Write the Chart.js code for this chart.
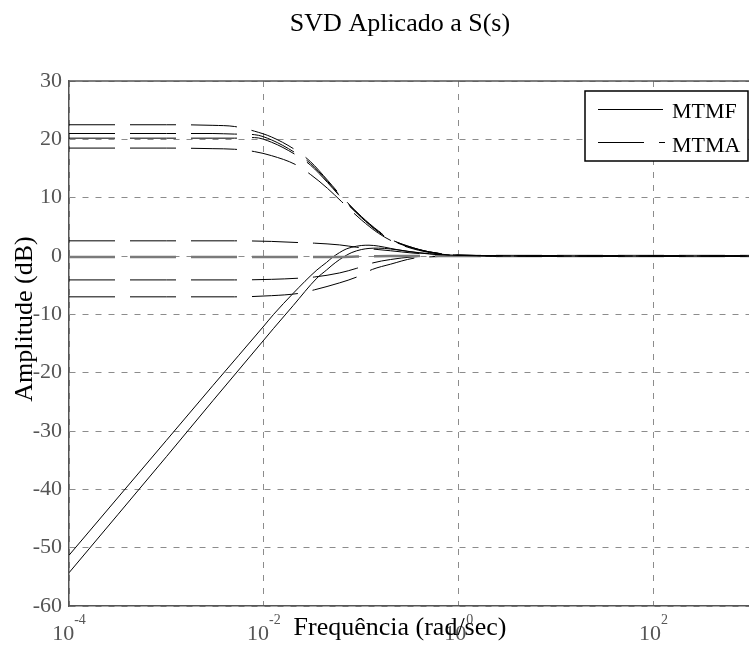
<!DOCTYPE html>
<html>
<head>
<meta charset="utf-8">
<script src="https://cdn.jsdelivr.net/npm/chart.js@4.4.0/dist/chart.umd.min.js"></script>
<style>
  html, body { margin: 0; padding: 0; background: #fff; overflow: hidden; }
  #wrap { width: 752px; height: 651px; }
</style>
</head>
<body>
<div id="wrap"><canvas id="svdChart" width="752" height="651"></canvas></div>
<script>
// Eixos
const xTickExps = [-4, -2, 0, 2];
const yTicks = [-60, -50, -40, -30, -20, -10, 0, 10, 20, 30];

// MTMA - grupo alto (valores singulares grandes)
const fHigh = [1e-4, 1e-3, 3e-3, 5e-3, 8e-3, 0.012, 0.021, 0.03, 0.045, 0.063, 0.1, 0.15, 0.21, 0.3, 0.5, 1, 10, 1000];
const mtmaA = [22.5, 22.5, 22.4, 22.2, 21.4, 20.4, 18.2, 16.2, 13.0, 10.2, 6.8, 4.3, 2.7, 1.7, 0.7, 0.15, 0, 0];
const mtmaB = [21.0, 21.0, 21.0, 20.9, 20.8, 19.9, 17.7, 15.9, 12.8, 10.0, 6.7, 4.2, 2.7, 1.7, 0.7, 0.15, 0, 0];
const mtmaC = [20.2, 20.2, 20.2, 20.2, 20.3, 19.5, 17.4, 15.6, 12.6, 9.9, 6.6, 4.1, 2.6, 1.6, 0.7, 0.15, 0, 0];
const mtmaD = [18.5, 18.5, 18.4, 18.3, 17.9, 17.2, 15.7, 14.0, 11.6, 9.3, 6.2, 3.9, 2.5, 1.5, 0.6, 0.1, 0, 0];

// MTMA - grupo baixo
const fLow = [1e-4, 1e-3, 5e-3, 0.012, 0.023, 0.033, 0.06, 0.09, 0.13, 0.2, 0.34, 0.6, 1, 10, 1000];
const mtmaE = [2.6, 2.6, 2.6, 2.5, 2.3, 2.2, 1.9, 1.5, 1.2, 0.9, 0.5, 0.25, 0.1, 0, 0];
const mtmaF = [-0.15, -0.15, -0.15, -0.15, -0.15, -0.15, -0.15, -0.1, -0.05, 0, 0, 0, 0, 0, 0];
const mtmaG = [-4.1, -4.1, -4.1, -4.0, -3.8, -3.6, -2.9, -2.1, -1.2, -0.6, -0.15, -0.05, 0, 0, 0];
const mtmaH = [-7.0, -7.0, -7.0, -6.8, -6.4, -5.8, -4.6, -3.6, -2.3, -1.4, -0.4, -0.1, 0, 0, 0];

// MTMF
const fMtmf = [1e-4, 1e-3, 3e-3, 0.01, 0.0126, 0.02, 0.035, 0.044, 0.05, 0.06, 0.07, 0.08, 0.1, 0.12, 0.15, 0.2, 0.25, 0.3, 0.4, 0.5, 0.7, 1, 10, 1000];
const mtmf1 = [-51.3, -31.6, -22.2, -12.0, -10.0, -6.4, -2.4, -1.1, -0.3, 0.6, 1.2, 1.5, 1.8, 1.85, 1.7, 1.3, 1.0, 0.8, 0.5, 0.35, 0.15, 0.05, 0, 0];
const mtmf2 = [-54.3, -34.4, -24.8, -14.4, -12.4, -8.5, -3.8, -2.4, -1.6, -0.6, 0.1, 0.6, 1.1, 1.3, 1.35, 1.2, 1.0, 0.8, 0.55, 0.4, 0.2, 0.05, 0, 0];

const DASH = [46, 15];
const SERIF = '"Liberation Serif", "Times New Roman", serif';

function pts(fs, ys) {
    return fs.map((f, i) => ({ x: f, y: ys[i] }));
}

function serie(fs, ys, dashed, color, width) {
    return {
        label: dashed ? "MTMA" : "MTMF",
        data: pts(fs, ys),
        borderColor: color || "#000",
        borderWidth: width || 1,
        borderDash: dashed ? DASH : [],
        pointRadius: 0,
        fill: false,
        cubicInterpolationMode: "monotone",
    };
}

// textos, legenda e moldura
const extras = {
    id: "extras",
    afterDraw(chart) {
        const c = chart.ctx;
        const a = chart.chartArea;
        const xs = chart.scales.x;
        const ys = chart.scales.y;
        c.save();

        // moldura superior
        c.strokeStyle = "#555";
        c.lineWidth = 1.5;
        c.beginPath();
        c.moveTo(a.left, a.top);
        c.lineTo(a.right, a.top);
        c.stroke();

        // ticks y
        c.fillStyle = "#555";
        c.font = "22px " + SERIF;
        c.textAlign = "right";
        c.textBaseline = "middle";
        yTicks.forEach(v => c.fillText(String(v), 62, ys.getPixelForValue(v)));

        // ticks x (10^n)
        c.textAlign = "left";
        c.textBaseline = "alphabetic";
        xTickExps.forEach(e => {
            const px = xs.getPixelForValue(Math.pow(10, e));
            c.font = "22px " + SERIF;
            const w1 = c.measureText("10").width;
            c.font = "14px " + SERIF;
            const w2 = c.measureText(String(e)).width;
            const x0 = px - (w1 + w2) / 2;
            c.font = "22px " + SERIF;
            c.fillText("10", x0, 640);
            c.font = "14px " + SERIF;
            c.fillText(String(e), x0 + w1, 624);
        });

        // titulo e rotulos
        c.fillStyle = "#000";
        c.font = "26px " + SERIF;
        c.textAlign = "center";
        c.textBaseline = "middle";
        c.fillText("SVD Aplicado a S(s)", 400, 24);
        c.fillText("Frequência (rad/sec)", 400, 628);
        c.save();
        c.translate(25, 319);
        c.rotate(-Math.PI / 2);
        c.fillText("Amplitude (dB)", 0, 0);
        c.restore();

        // legenda
        c.fillStyle = "#fff";
        c.fillRect(585, 91, 163, 70);
        c.strokeStyle = "#000";
        c.lineWidth = 1.5;
        c.strokeRect(585, 91, 163, 70);
        c.lineWidth = 1;
        c.beginPath();
        c.moveTo(598, 109.5);
        c.lineTo(663, 109.5);
        c.stroke();
        c.setLineDash(DASH);
        c.beginPath();
        c.moveTo(598, 142.5);
        c.lineTo(665, 142.5);
        c.stroke();
        c.setLineDash([]);
        c.fillStyle = "#000";
        c.font = "22px " + SERIF;
        c.textAlign = "left";
        c.fillText("MTMF", 672, 112);
        c.fillText("MTMA", 672, 146);
        c.restore();
    },
};

const ctx = document.getElementById("svdChart").getContext("2d");

new Chart(ctx, {
    type: "line",
    data: {
        datasets: [
            serie(fHigh, mtmaA, true),
            serie(fHigh, mtmaB, true),
            serie(fHigh, mtmaC, true),
            serie(fHigh, mtmaD, true),
            serie(fLow, mtmaE, true),
            serie(fLow, mtmaF, true, "#7a7a7a", 2.5),
            serie(fLow, mtmaG, true),
            serie(fLow, mtmaH, true),
            serie(fMtmf, mtmf1, false),
            serie(fMtmf, mtmf2, false),
        ],
    },
    options: {
        responsive: false,
        animation: false,
        devicePixelRatio: 1,
        layout: {
            padding: { left: 69, top: 81, right: 1, bottom: 45 },
        },
        plugins: {
            legend: { display: false },
            title: { display: false },
            tooltip: { enabled: false },
        },
        scales: {
            x: {
                type: "logarithmic",
                min: 1e-4,
                max: 1e3,
                afterBuildTicks: s => {
                    s.ticks = xTickExps.map(e => ({ value: Math.pow(10, e) }));
                },
                ticks: { display: false },
                grid: { color: "#8c8c8c", lineWidth: 1, drawTicks: false },
                border: { display: true, color: "#555", width: 1.5, dash: [6, 7] },
            },
            y: {
                type: "linear",
                min: -60,
                max: 30,
                afterBuildTicks: s => {
                    s.ticks = yTicks.map(v => ({ value: v }));
                },
                ticks: { display: false },
                grid: { color: "#8c8c8c", lineWidth: 1, drawTicks: false },
                border: { display: true, color: "#555", width: 1.5, dash: [6, 7] },
            },
        },
    },
    plugins: [extras],
});
</script>
</body>
</html>
